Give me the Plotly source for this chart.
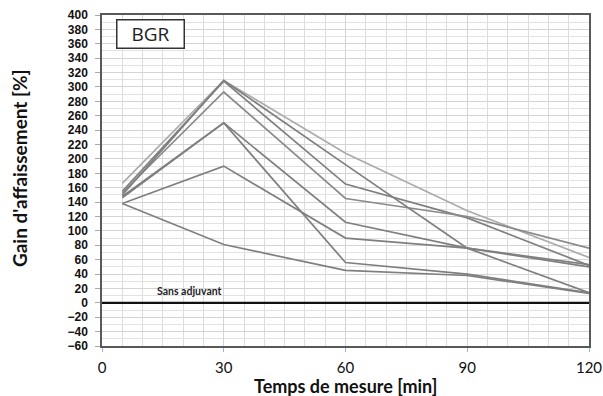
import plotly.graph_objects as go

# temps de mesure [min]
temps = [5, 30, 60, 90, 120]

# gain d'affaissement [%] pour chaque dosage
series = [
    [166, 309, 208, 128, 63],
    [155, 308, 165, 118, 52],
    [153, 293, 145, 120, 76],
    [150, 309, 192, 76, 14],
    [146, 250, 112, 76, 53],
    [148, 250, 56, 40, 14],
    [138, 190, 90, 76, 50],
    [138, 81, 45, 38, 13],
]
couleurs = ['#ababab', '#7f7f7f', '#8a8a8a', '#7f7f7f', '#7f7f7f', '#7f7f7f', '#7f7f7f', '#7f7f7f']

# référence sans adjuvant
ref_x = [0, 120]
ref_y = [0, 0]

fig = go.Figure()
for vals, c in zip(series, couleurs):
    fig.add_trace(go.Scatter(x=temps, y=vals, mode='lines',
                             line=dict(color=c, width=1.7), showlegend=False))

fig.add_trace(go.Scatter(x=ref_x, y=ref_y, mode='lines',
                         line=dict(color='#111111', width=2.2), showlegend=False))

fig.add_annotation(x=21.5, y=0, xref='x', yref='y', yanchor='bottom', yshift=4,
                   text='<b>Sans adjuvant</b>', showarrow=False,
                   font=dict(size=10.5, color='#222222'))

# cadre "BGR"
fig.add_annotation(x=0.1, y=0.988, xref='paper', yref='paper',
                   xanchor='center', yanchor='top', text='BGR', showarrow=False,
                   font=dict(size=19, color='#222222', family='Open Sans'),
                   bordercolor='#333333', borderwidth=1.5, borderpad=2,
                   bgcolor='white', width=62, height=23)

# titres des axes
fig.add_annotation(x=0.5, y=-0.12, xref='paper', yref='paper',
                   xanchor='center', yanchor='middle', showarrow=False,
                   text='<b>Temps de mesure [min]</b>', font=dict(size=18))
fig.add_annotation(x=-0.168, y=0.538, xref='paper', yref='paper', textangle=-90,
                   xanchor='center', yanchor='middle', showarrow=False,
                   text='<b>Gain d\'affaissement [%]</b>', font=dict(size=19))

fig.update_layout(
    width=603, height=396,
    paper_bgcolor='white', plot_bgcolor='white',
    margin=dict(l=102, r=14, t=15, b=50),
    font=dict(family='Lato', size=13, color='#111111'),
    xaxis=dict(
        range=[0, 120], tickvals=[0, 30, 60, 90, 120], automargin=False,
        tickfont=dict(size=15, family='Lato'), ticklabelstandoff=3,
        showgrid=True, gridcolor='#d4d4d4', gridwidth=1,
        minor=dict(dtick=5, showgrid=True, gridcolor='#dcdcdc', gridwidth=1),
        showline=True, linecolor='#595959', linewidth=1.5, mirror=True,
        ticks='outside', ticklen=4, tickcolor='#9fb4d0', zeroline=False,
    ),
    yaxis=dict(
        range=[-60, 400], dtick=20, automargin=False,
        tickfont=dict(size=12, family='Liberation Sans'), ticklabelstandoff=5,
        showgrid=True, gridcolor='#d4d4d4', gridwidth=1,
        minor=dict(dtick=10, showgrid=True, gridcolor='#e2e2e2', gridwidth=1),
        showline=True, linecolor='#595959', linewidth=1.5, mirror=True,
        ticks='outside', ticklen=5, tickcolor='#aaaaaa', zeroline=False,
    ),
)

fig.update_xaxes(tickprefix='<b>', ticksuffix='</b>')
fig.update_yaxes(tickprefix='<b>', ticksuffix='</b>')

# pas de marge autour de la figure dans la page
fig.write_html('out.html', config={'displayModeBar': False},
               post_script="document.body.style.margin='0';document.body.style.overflow='hidden';")
